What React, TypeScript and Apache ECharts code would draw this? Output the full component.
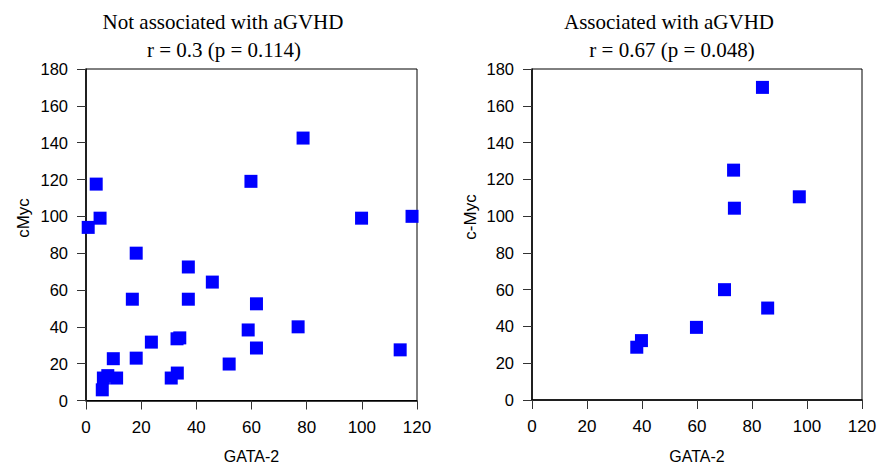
import React, { useEffect, useRef } from "react";
import * as echarts from "echarts";

const xTicks = [0, 20, 40, 60, 80, 100, 120];
const yTicks = [0, 20, 40, 60, 80, 100, 120, 140, 160, 180];

const leftTitle = "Not associated with aGVHD";
const leftSub = "r = 0.3 (p = 0.114)";
const rightTitle = "Associated with aGVHD";
const rightSub = "r = 0.67 (p = 0.048)";

const xName = "GATA-2";
const leftYName = "cMyc";
const rightYName = "c-Myc";

// Not associated with aGVHD: [GATA-2, cMyc]
const notAssociated: [number, number][] = [
  [78.7, 142.5],
  [3.7, 117.5],
  [59.8, 119],
  [5.1, 99],
  [0.8, 94],
  [99.9, 99],
  [118.2, 100],
  [18.2, 80],
  [37.1, 72.5],
  [45.8, 64.3],
  [16.8, 55],
  [37.1, 55],
  [61.8, 52.5],
  [58.8, 38.3],
  [76.9, 40],
  [33, 33.5],
  [34, 34],
  [23.7, 31.7],
  [61.8, 28.5],
  [113.9, 27.5],
  [9.9, 22.7],
  [18.2, 23],
  [51.9, 19.8],
  [33.1, 14.9],
  [30.9, 12.2],
  [6.3, 12.2],
  [7.9, 13.5],
  [11.1, 12.2],
  [5.9, 5.8],
];

// Associated with aGVHD: [GATA-2, c-Myc]
const associated: [number, number][] = [
  [83.8, 170],
  [73.3, 125],
  [73.6, 104.3],
  [97.2, 110.5],
  [70, 60],
  [85.7, 50],
  [59.8, 39.5],
  [39.8, 32.3],
  [38.1, 28.7],
];

const axisFont = "'Liberation Sans', Arial, Helvetica, sans-serif";
const titleFont = "'Liberation Serif', 'Times New Roman', Times, serif";

function makeX(gridIndex: number) {
  return {
    type: "value",
    gridIndex,
    min: xTicks[0],
    max: xTicks[xTicks.length - 1],
    interval: xTicks[1] - xTicks[0],
    name: xName,
    nameLocation: "middle",
    nameGap: 48,
    nameTextStyle: { fontFamily: axisFont, fontSize: 16, color: "#000", verticalAlign: "top" },
    axisLine: { show: true, onZero: false, lineStyle: { color: "#000", width: 1.5 } },
    axisTick: { show: true, inside: false, length: 9, lineStyle: { color: "#333" } },
    axisLabel: { fontFamily: axisFont, fontSize: 17, color: "#000", margin: 18 },
    splitLine: { show: false },
  };
}

function makeY(gridIndex: number, fontSize: number, margin: number) {
  return {
    type: "value",
    gridIndex,
    min: yTicks[0],
    max: yTicks[yTicks.length - 1],
    interval: yTicks[1] - yTicks[0],
    axisLine: { show: true, onZero: false, lineStyle: { color: "#000", width: 1.5 } },
    axisTick: { show: true, inside: false, length: 9, lineStyle: { color: "#333" } },
    axisLabel: { fontFamily: axisFont, fontSize, color: "#000", margin },
    splitLine: { show: false },
  };
}

export default function App() {
  const ref = useRef<HTMLDivElement>(null);
  useEffect(() => {
    if (!ref.current) return;
    const chart = echarts.init(ref.current, undefined, { renderer: "svg" });
    chart.setOption({
      animation: false,
      backgroundColor: "#fff",
      grid: [
        { left: 86, top: 69, width: 331, height: 331.5, show: true, borderColor: "#000", borderWidth: 1, backgroundColor: "transparent", outerBoundsMode: "none", containLabel: false },
        { left: 532, top: 69, width: 330, height: 331, show: true, borderColor: "#000", borderWidth: 1, backgroundColor: "transparent", outerBoundsMode: "none", containLabel: false },
      ],
      xAxis: [makeX(0), makeX(1)],
      yAxis: [makeY(0, 16.5, 18), makeY(1, 16.5, 18)],
      graphic: [
        { type: "text", x: 223, y: 22, style: { text: leftTitle, font: `21px ${titleFont}`, fill: "#000", textAlign: "center", textVerticalAlign: "middle" } },
        { type: "text", x: 224, y: 50, style: { text: leftSub, font: `21px ${titleFont}`, fill: "#000", textAlign: "center", textVerticalAlign: "middle" } },
        { type: "text", x: 669, y: 22, style: { text: rightTitle, font: `21px ${titleFont}`, fill: "#000", textAlign: "center", textVerticalAlign: "middle" } },
        { type: "text", x: 672, y: 50, style: { text: rightSub, font: `21px ${titleFont}`, fill: "#000", textAlign: "center", textVerticalAlign: "middle" } },
        { type: "text", x: 23, y: 218, rotation: Math.PI / 2, style: { text: leftYName, font: `17px ${axisFont}`, fill: "#000", textAlign: "center", textVerticalAlign: "middle" } },
        { type: "text", x: 470, y: 217, rotation: Math.PI / 2, style: { text: rightYName, font: `17px ${axisFont}`, fill: "#000", textAlign: "center", textVerticalAlign: "middle" } },
      ],
      series: [
        {
          type: "scatter",
          xAxisIndex: 0,
          yAxisIndex: 0,
          data: notAssociated,
          symbol: "rect",
          symbolSize: 13,
          itemStyle: { color: "#0000ff", opacity: 1 },
          clip: false,
        },
        {
          type: "scatter",
          xAxisIndex: 1,
          yAxisIndex: 1,
          data: associated,
          symbol: "rect",
          symbolSize: 13,
          itemStyle: { color: "#0000ff", opacity: 1 },
          clip: false,
        },
      ],
    });
    return () => chart.dispose();
  }, []);
  return (
    <div
      ref={ref}
      style={{ position: "fixed", left: 0, top: 0, width: 880, height: 468, background: "#fff" }}
    />
  );
}
